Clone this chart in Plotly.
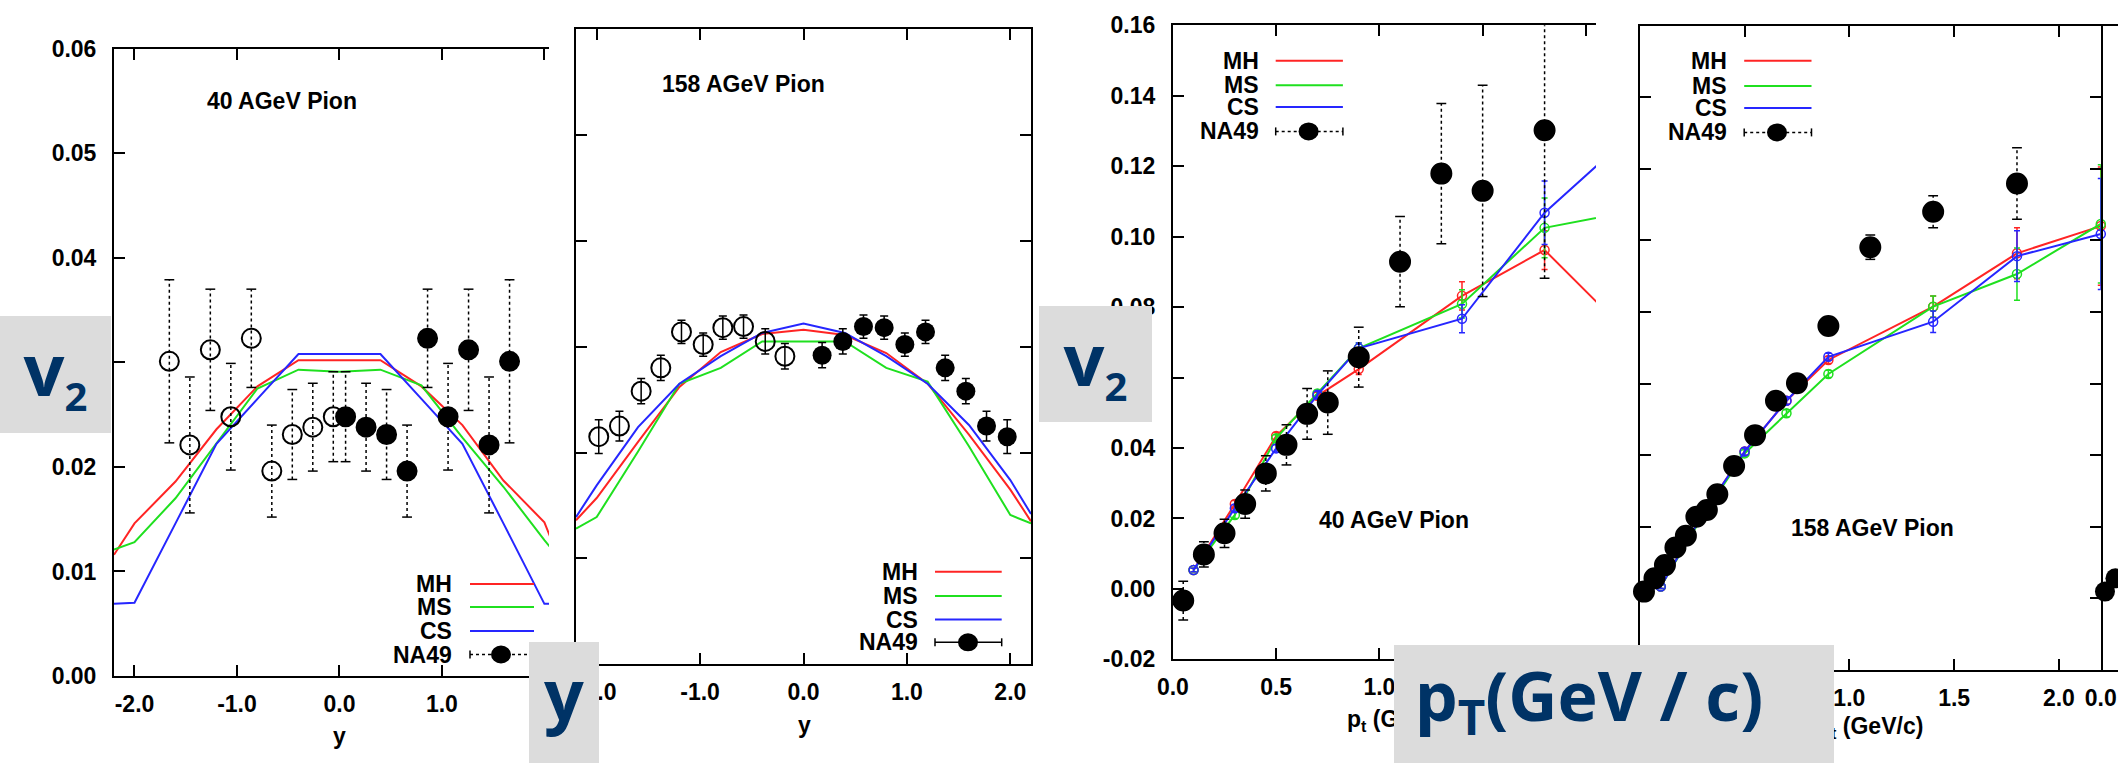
import plotly.graph_objects as go

W, H = 2118, 763

def px(x):
    return x / W

def py(y):
    return 1 - y / H

# ---------------- data ----------------
# Panel 1: v2 vs y, 40 AGeV pion
p1_model_y = [-2.2, -2.0, -1.6, -1.2, -0.8, -0.4, 0.0, 0.4, 0.8, 1.2, 1.6, 2.0, 2.2]
p1_mh = [0.0116, 0.0146, 0.0186, 0.0236, 0.0277, 0.0302, 0.0302, 0.0302, 0.0277, 0.0240, 0.0187, 0.0147, 0.0098]
p1_ms = [0.0121, 0.0128, 0.0170, 0.0222, 0.0275, 0.0293, 0.0291, 0.0293, 0.0278, 0.0228, 0.0181, 0.0130, 0.0106]
p1_cs = [0.0069, 0.0070, 0.0146, 0.0222, 0.0265, 0.0308, 0.0308, 0.0308, 0.0265, 0.0222, 0.0146, 0.0069, 0.0069]
p1_na49_y = [0.06, 0.26, 0.46, 0.66, 0.86, 1.06, 1.26, 1.46, 1.66]
p1_na49_v2 = [0.0248, 0.0238, 0.0231, 0.0196, 0.0323, 0.0248, 0.0312, 0.0221, 0.0301]
p1_na49_err = [0.0043, 0.0042, 0.0043, 0.0044, 0.0047, 0.0051, 0.0058, 0.0065, 0.0078]
p1_refl_y = [-1.66, -1.46, -1.26, -1.06, -0.86, -0.66, -0.46, -0.26, -0.06]
p1_refl_v2 = [0.0301, 0.0221, 0.0312, 0.0248, 0.0323, 0.0196, 0.0231, 0.0238, 0.0248]
p1_refl_err = [0.0078, 0.0065, 0.0058, 0.0051, 0.0047, 0.0044, 0.0043, 0.0042, 0.0043]

# Panel 2: v2 vs y, 158 AGeV pion
p2_model_y = [-2.2, -2.0, -1.6, -1.2, -0.8, -0.4, 0.0, 0.4, 0.8, 1.2, 1.6, 2.0, 2.2]
p2_mh = [0.0136, 0.0157, 0.0210, 0.0262, 0.0295, 0.0312, 0.0316, 0.0311, 0.0294, 0.0265, 0.0217, 0.0165, 0.0135]
p2_ms = [0.0128, 0.0139, 0.0201, 0.0265, 0.0280, 0.0305, 0.0305, 0.0305, 0.0280, 0.0267, 0.0206, 0.0141, 0.0133]
p2_cs = [0.0139, 0.0169, 0.0224, 0.0265, 0.0291, 0.0313, 0.0322, 0.0313, 0.0291, 0.0265, 0.0226, 0.0174, 0.0142]
p2_na49_y = [0.18, 0.38, 0.58, 0.78, 0.98, 1.18, 1.37, 1.57, 1.77, 1.97]
p2_na49_v2 = [0.0292, 0.0305, 0.0319, 0.0318, 0.0302, 0.0314, 0.0280, 0.0258, 0.0225, 0.0215]
p2_na49_err = [0.0012, 0.0012, 0.0011, 0.0011, 0.0011, 0.0011, 0.0012, 0.0012, 0.0014, 0.0016]
p2_refl_y = [-1.98, -1.78, -1.57, -1.38, -1.18, -0.97, -0.78, -0.58, -0.37, -0.18]
p2_refl_v2 = [0.0215, 0.0225, 0.0258, 0.0280, 0.0314, 0.0302, 0.0318, 0.0319, 0.0305, 0.0291]
p2_refl_err = [0.0016, 0.0014, 0.0012, 0.0012, 0.0011, 0.0011, 0.0011, 0.0011, 0.0012, 0.0012]

# Panel 3: v2 vs pt, 40 AGeV pion
p3_model_pt = [0.1, 0.3, 0.5, 0.7, 0.9, 1.4, 1.8, 2.2]
p3_mh = [0.0054, 0.0241, 0.0434, 0.0548, 0.0624, 0.0832, 0.0962, 0.0728]
p3_ms = [0.0054, 0.0210, 0.0428, 0.0555, 0.0683, 0.0809, 0.1025, 0.1070]
p3_cs = [0.0054, 0.0229, 0.0399, 0.0551, 0.0683, 0.0767, 0.1068, 0.1279]
p3_mh_err = [0.0005, 0.0010, 0.0010, 0.0010, 0.0015, 0.0040, 0.0055, 0.0100]
p3_ms_err = [0.0005, 0.0010, 0.0010, 0.0010, 0.0015, 0.0040, 0.0085, 0.0100]
p3_cs_err = [0.0005, 0.0010, 0.0010, 0.0010, 0.0015, 0.0040, 0.0090, 0.0100]
p3_na49_pt = [0.05, 0.15, 0.25, 0.35, 0.45, 0.55, 0.65, 0.75, 0.90, 1.10, 1.30, 1.50, 1.80]
p3_na49_v2 = [-0.0033, 0.0098, 0.0158, 0.0241, 0.0328, 0.0409, 0.0497, 0.0529, 0.0658, 0.0929, 0.1179, 0.1130, 0.1302]
p3_na49_err = [0.0055, 0.0036, 0.0040, 0.0040, 0.0050, 0.0057, 0.0072, 0.0090, 0.0085, 0.0128, 0.0199, 0.0300, 0.0420]

# Panel 4: v2 vs pt, 158 AGeV pion
p4_model_pt = [0.1, 0.3, 0.5, 0.7, 0.9, 1.4, 1.8, 2.2]
p4_mh = [0.0033, 0.0235, 0.0410, 0.0552, 0.0666, 0.0815, 0.0964, 0.1040]
p4_ms = [0.0033, 0.0230, 0.0405, 0.0517, 0.0627, 0.0815, 0.0906, 0.1046]
p4_cs = [0.0033, 0.0235, 0.0410, 0.0552, 0.0675, 0.0773, 0.0956, 0.1018]
p4_mh_err = [0.0005, 0.0010, 0.0010, 0.0010, 0.0010, 0.0030, 0.0071, 0.0165]
p4_ms_err = [0.0005, 0.0010, 0.0010, 0.0010, 0.0010, 0.0030, 0.0073, 0.0165]
p4_cs_err = [0.0005, 0.0010, 0.0010, 0.0010, 0.0010, 0.0030, 0.0071, 0.0155]
p4_na49_pt = [0.02, 0.07, 0.12, 0.17, 0.22, 0.27, 0.32, 0.37, 0.45, 0.55, 0.65, 0.75, 0.90, 1.10, 1.40, 1.80]
p4_na49_v2 = [0.0019, 0.0056, 0.0093, 0.0142, 0.0175, 0.0228, 0.0247, 0.0291, 0.0370, 0.0456, 0.0552, 0.0601, 0.0761, 0.0981, 0.1080, 0.1159]
p4_na49_err = [0.0010, 0.0010, 0.0010, 0.0010, 0.0010, 0.0010, 0.0010, 0.0010, 0.0010, 0.0010, 0.0010, 0.0010, 0.0012, 0.0034, 0.0045, 0.0100]

# tick labels (labels that the grey overlay boxes hide completely are left blank)
y_ticks_v2 = [0.00, 0.01, 0.02, 0.03, 0.04, 0.05, 0.06]
p1_y_ticktext = ['0.00', '0.01', '0.02', '', '0.04', '0.05', '0.06']
x_ticks_rap = [-2, -1, 0, 1, 2]
p1_x_ticktext = ['-2.0', '-1.0', '0.0', '1.0', '']
p2_x_ticktext = ['-2.0', '-1.0', '0.0', '1.0', '2.0']
y_ticks_pt = [-0.02, 0.00, 0.02, 0.04, 0.06, 0.08, 0.10, 0.12, 0.14, 0.16]
p3_y_ticktext = ['-0.02', '0.00', '0.02', '0.04', '', '0.08', '0.10', '0.12', '0.14', '0.16']
x_ticks_pt = [0.0, 0.5, 1.0, 1.5, 2.0]
p3_x_ticktext = ['0.0', '0.5', '1.0', '', '']
p4_x_ticktext = ['', '', '1.0', '1.5', '2.0']

series_names = ['MH', 'MS', 'CS', 'NA49']

# ---------------- styling ----------------
RED = '#ff2424'
GREEN = '#1fe01f'
BLUE = '#2626ff'
NAVY = '#003366'
BOXGRAY = '#dcdcdc'
LAB = 'Liberation Sans'
BIG = 'Open Sans'

fig = go.Figure()


def seg(xs, ys, es):
    sx, sy = [], []
    for x, y, e in zip(xs, ys, es):
        sx += [x, x, None]
        sy += [y - e, y + e, None]
    return sx, sy


def caps(xs, ys, es):
    cx, cy = [], []
    for x, y, e in zip(xs, ys, es):
        cx += [x, x]
        cy += [y - e, y + e]
    return cx, cy


def add_dotted_points(xs, ys, es, ax, symbol, size, clip=True):
    sx, sy = seg(xs, ys, es)
    fig.add_trace(go.Scatter(x=sx, y=sy, mode='lines', line=dict(color='black', width=1.5, dash='dot'),
                             xaxis=ax[0], yaxis=ax[1], showlegend=False, hoverinfo='skip'))
    cx, cy = caps(xs, ys, es)
    fig.add_trace(go.Scatter(x=cx, y=cy, mode='markers', marker=dict(symbol='line-ew', size=7, line=dict(color='black', width=1.5)),
                             xaxis=ax[0], yaxis=ax[1], showlegend=False, hoverinfo='skip', cliponaxis=True))
    fig.add_trace(go.Scatter(x=xs, y=ys, mode='markers',
                             marker=dict(symbol=symbol, size=size, color='black', line=dict(color='black', width=2)),
                             xaxis=ax[0], yaxis=ax[1], showlegend=False, cliponaxis=clip))


# Panel 1 ----------------------------------------------------
for vals, col in ((p1_mh, RED), (p1_ms, GREEN), (p1_cs, BLUE)):
    fig.add_trace(go.Scatter(x=p1_model_y, y=vals, mode='lines', line=dict(color=col, width=2),
                             xaxis='x', yaxis='y', showlegend=False))
add_dotted_points(p1_refl_y, p1_refl_v2, p1_refl_err, ('x', 'y'), 'circle-open', 19)
add_dotted_points(p1_na49_y, p1_na49_v2, p1_na49_err, ('x', 'y'), 'circle', 19)

# Panel 2 ----------------------------------------------------
for vals, col in ((p2_mh, RED), (p2_ms, GREEN), (p2_cs, BLUE)):
    fig.add_trace(go.Scatter(x=p2_model_y, y=vals, mode='lines', line=dict(color=col, width=2),
                             xaxis='x2', yaxis='y2', showlegend=False))
fig.add_trace(go.Scatter(x=p2_refl_y, y=p2_refl_v2, mode='markers',
                         error_y=dict(type='data', array=p2_refl_err, color='black', thickness=1.5, width=4),
                         marker=dict(symbol='circle-open', size=19, color='black', line=dict(width=2)),
                         xaxis='x2', yaxis='y2', showlegend=False))
fig.add_trace(go.Scatter(x=p2_na49_y, y=p2_na49_v2, mode='markers',
                         error_y=dict(type='data', array=p2_na49_err, color='black', thickness=1.5, width=4),
                         marker=dict(symbol='circle', size=19, color='black'),
                         xaxis='x2', yaxis='y2', showlegend=False))

# Panel 3 ----------------------------------------------------
for vals, errs, col in ((p3_mh, p3_mh_err, RED), (p3_ms, p3_ms_err, GREEN), (p3_cs, p3_cs_err, BLUE)):
    fig.add_trace(go.Scatter(x=p3_model_pt, y=vals, mode='lines+markers', line=dict(color=col, width=2),
                             marker=dict(symbol='circle-open', size=9, color=col, line=dict(width=1.5)),
                             error_y=dict(type='data', array=errs, color=col, thickness=1.5, width=3),
                             xaxis='x3', yaxis='y3', showlegend=False))
add_dotted_points(p3_na49_pt, p3_na49_v2, p3_na49_err, ('x3', 'y3'), 'circle', 20)

# Panel 4 ----------------------------------------------------
for vals, errs, col in ((p4_mh, p4_mh_err, RED), (p4_ms, p4_ms_err, GREEN), (p4_cs, p4_cs_err, BLUE)):
    fig.add_trace(go.Scatter(x=p4_model_pt, y=vals, mode='lines+markers', line=dict(color=col, width=2),
                             marker=dict(symbol='circle-open', size=9, color=col, line=dict(width=1.5)),
                             error_y=dict(type='data', array=errs, color=col, thickness=1.5, width=3),
                             xaxis='x4', yaxis='y4', showlegend=False, cliponaxis=False))
add_dotted_points(p4_na49_pt, p4_na49_v2, p4_na49_err, ('x4', 'y4'), 'circle', 20, clip=False)

# sliver of the neighbouring panel at the far right
fig.add_trace(go.Scatter(x=p4_na49_pt, y=p4_na49_v2, mode='markers', marker=dict(symbol='circle', size=20, color='black'),
                         xaxis='x5', yaxis='y5', showlegend=False, cliponaxis=False))

# ---------------- axes ----------------
tickfont = dict(family=LAB, size=23, color='black', weight='bold')


def ax(domain, rng, tv, tt, mirror, anchor, showlabels=True, standoff=6):
    return dict(domain=domain, range=rng, tickmode='array', tickvals=tv, ticktext=tt,
                ticks='inside', ticklen=11, tickwidth=1.5, tickcolor='black',
                showline=True, linecolor='black', linewidth=2, mirror=mirror,
                showgrid=False, zeroline=False, tickfont=tickfont, anchor=anchor,
                showticklabels=showlabels, ticklabelstandoff=standoff, fixedrange=True,
                automargin=False)


fig.update_layout(
    width=W, height=H, margin=dict(l=0, r=0, t=0, b=0, autoexpand=False),
    paper_bgcolor='white', plot_bgcolor='rgba(0,0,0,0)', showlegend=False,
    xaxis=ax([px(114), px(549)], [-2.2, 2.045], x_ticks_rap, p1_x_ticktext, 'allticks', 'y'),
    yaxis=ax([py(676), py(48.7)], [0, 0.06], y_ticks_v2, p1_y_ticktext, False, 'x', standoff=11),
    xaxis2=ax([px(576), px(1031)], [-2.2, 2.2], x_ticks_rap, p2_x_ticktext, 'allticks', 'y2'),
    yaxis2=ax([py(664.2), py(29.2)], [0, 0.06], y_ticks_v2, p1_y_ticktext, 'allticks', 'x2', showlabels=False),
    xaxis3=ax([px(1172.9), px(1596)], [0, 2.049], x_ticks_pt, p3_x_ticktext, 'allticks', 'y3'),
    yaxis3=ax([py(659.4), py(25.3)], [-0.02, 0.16], y_ticks_pt, p3_y_ticktext, False, 'x3', standoff=11),
    xaxis4=ax([px(1639.8), px(2100.8)], [0, 2.2], x_ticks_pt, p4_x_ticktext, 'allticks', 'y4'),
    yaxis4=ax([py(670), py(25.6)], [-0.02, 0.16], y_ticks_pt, p3_y_ticktext, 'allticks', 'x4', showlabels=False),
    xaxis5=dict(domain=[px(2100.8), 1.0], range=[0, 17.2 / 209], tickmode='array', tickvals=[0], ticktext=['0.0'],
                ticks='', showline=True, linecolor='black', linewidth=2, mirror=True, showgrid=False,
                zeroline=False, tickfont=tickfont, anchor='y5', ticklabelstandoff=6, automargin=False),
    yaxis5=dict(domain=[py(670), py(25.6)], range=[-0.02, 0.16], visible=False, anchor='x5', automargin=False),
)

# ---------------- annotations / in-plot legends ----------------
def text(x, y, s, size=23, xanchor='center', family=LAB, color='black', weight='bold'):
    fig.add_annotation(xref='paper', yref='paper', x=px(x), y=py(y), text=s, showarrow=False,
                       xanchor=xanchor, yanchor='middle',
                       font=dict(family=family, size=size, color=color, weight=weight))


def line_shape(x0, y0, x1, y1, color, width=2, dash='solid'):
    fig.add_shape(type='line', xref='paper', yref='paper', x0=px(x0), y0=py(y0), x1=px(x1), y1=py(y1),
                  line=dict(color=color, width=width, dash=dash), layer='above')


def legend(xr, xs0, xs1, rows, dot_x, dotted):
    cols = [RED, GREEN, BLUE]
    for i in range(3):
        text(xr, rows[i], series_names[i], xanchor='right')
        line_shape(xs0, rows[i], xs1, rows[i], cols[i], 2)
    text(xr, rows[3], series_names[3], xanchor='right')
    yl = rows[3]
    line_shape(xs0, yl, xs1, yl, 'black', 1.5, 'dot' if dotted else 'solid')
    line_shape(xs0, yl - 4, xs0, yl + 4, 'black', 1.5)
    line_shape(xs1, yl - 4, xs1, yl + 4, 'black', 1.5)
    fig.add_shape(type='circle', xref='paper', yref='paper', x0=px(dot_x - 10), x1=px(dot_x + 10),
                  y0=py(yl + 9), y1=py(yl - 9), fillcolor='black', line=dict(color='black', width=0), layer='above')


legend(454, 470, 534, [584, 607, 631, 654.5], 501, True)
legend(920, 935, 1001.7, [571.8, 596, 619.5, 642.3], 968, False)
legend(1261.4, 1275.7, 1342.9, [60.8, 85.2, 107, 131.4], 1308.6, True)
legend(1728.7, 1744.2, 1811.5, [60.8, 86.1, 108, 132.4], 1777, True)

text(282, 100.7, '40 AGeV Pion')
text(743, 84.2, '158 AGeV Pion')
text(1394, 519.7, '40 AGeV Pion')
text(1872, 527.7, '158 AGeV Pion')

# axis titles
text(339, 735.8, 'y')
text(804, 725, 'y')
text(1400, 720, 'p<sub>t</sub> (GeV/c)')
text(1870, 727.5, 'p<sub>t</sub> (GeV/c)')

# ---------------- grey overlay boxes with large labels ----------------
PAD = 3


def label_box(x0, y0, x1, y1, s, size, align='center'):
    fig.add_annotation(xref='paper', yref='paper', x=px(x0), y=py(y0), xanchor='left', yanchor='top',
                       text=s, showarrow=False, bgcolor=BOXGRAY,
                       width=x1 - x0 - 2 * PAD, height=y1 - y0 - 2 * PAD,
                       borderpad=PAD, borderwidth=0, align=align, valign='top',
                       font=dict(family=BIG, size=size, color=NAVY, weight='bold'))


V2 = 'v<sub><span style="font-size:40px">2</span></sub>'

label_box(0, 316, 111, 433, V2, 72)
label_box(529, 642, 599, 763, 'y', 70)
label_box(1039, 306, 1152, 422, V2, 72)
label_box(1394, 645, 1834, 763, '\u00a0p<sub>T</sub>(GeV / c)', 68, align='left')

fig.write_html('out.html', config={'displayModeBar': False},
               post_script="document.body.style.margin='0';document.body.style.overflow='hidden';")
